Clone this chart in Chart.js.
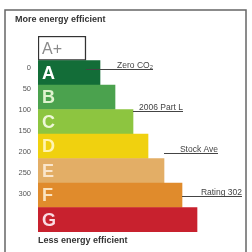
<!DOCTYPE html>
<html>
<head>
<meta charset="utf-8">
<script src="https://cdn.jsdelivr.net/npm/chart.js@4/dist/chart.umd.min.js"></script>
<style>
  html, body { margin: 0; padding: 0; background: #fff; }
  #wrap { width: 252px; height: 252px; }
</style>
</head>
<body>
<div id="wrap"><canvas id="ratingChart" width="252" height="252"></canvas></div>
<script>
// Rating bands, top (best) to bottom (worst)
const grades = ['A+', 'A', 'B', 'C', 'D', 'E', 'F', 'G'];
const barLengths = [48, 62, 77, 95, 110, 126, 144, 159]; // bar length per band
const bandColors = ['#ffffff', '#136d38', '#4ba24e', '#8dc540', '#f0d10f', '#e3ae66', '#e08b2c', '#c8212e'];
const letterColors = ['#8a8a8a', '#ffffff', '#dff3cf', '#eef7d8', '#fff4b0', '#fae6cc', '#fbe4c0', '#fadbe2'];

// Scale on the left (kg CO2 / m2 type figures)
const scaleTicks = [0, 50, 100, 150, 200, 250, 300];

// Reference marks on the right
const markLabels = ['Zero CO\u2082', '2006 Part L', 'Stock Ave', 'Rating 302'];
const markValues = [0, 100, 200, 302];   // where the mark sits on the scale
const markBands = ['A+', 'C', 'E', 'F']; // line starts at this band's bar end
const markEnds = [115, 145, 180, 204];   // label end, in bar length units

// Draws frame, headings, band letters and the reference marks
const extrasPlugin = {
    id: 'extras',
    afterDatasetsDraw(chart) {
        const c = chart.ctx;
        const area = chart.chartArea;
        const x = chart.scales.x;
        const y = chart.scales.y;
        const y2 = chart.scales.y2;

        c.save();

        // outer frame
        c.strokeStyle = '#666';
        c.lineWidth = 1.5;
        c.strokeRect(5, 10, 241, 250);

        // headings
        c.fillStyle = '#333';
        c.font = 'bold 9px "Liberation Sans", Arial, sans-serif';
        c.textAlign = 'left';
        c.textBaseline = 'middle';
        c.fillText('More energy efficient', 15, 20);
        c.fillText('Less energy efficient', area.left, 241);

        // band letters
        grades.forEach((g, i) => {
            const cy = y.getPixelForValue(i);
            c.fillStyle = letterColors[i];
            if (g === 'A+') {
                c.font = '16px "Liberation Sans", Arial, sans-serif';
            } else {
                c.font = 'bold 18px "Liberation Sans", Arial, sans-serif';
            }
            c.fillText(g, area.left + 4, cy + 1);
        });

        // reference marks
        c.font = '8.5px "Liberation Sans", Arial, sans-serif';
        c.textAlign = 'right';
        c.textBaseline = 'alphabetic';
        markLabels.forEach((label, i) => {
            const band = grades.indexOf(markBands[i]);
            const x0 = x.getPixelForValue(barLengths[band]);
            const x1 = x.getPixelForValue(markEnds[i]);
            const ly = Math.round(y2.getPixelForValue(markValues[i])) - 1.5;
            c.strokeStyle = '#444';
            c.lineWidth = 1;
            c.beginPath();
            c.moveTo(x0, ly);
            c.lineTo(x1, ly);
            c.stroke();
            c.fillStyle = '#444';
            c.fillText(label, x1, ly - 2);
        });

        c.restore();
    }
};

const ctx = document.getElementById('ratingChart').getContext('2d');

new Chart(ctx, {
    type: 'bar',
    data: {
        labels: grades,
        datasets: [{
            data: barLengths,
            backgroundColor: bandColors,
            borderColor: '#333',
            borderWidth: grades.map(g => (g === 'A+' ? 1.5 : 0)),
            borderSkipped: false,
            barPercentage: 1,
            categoryPercentage: 1,
        }],
    },
    options: {
        indexAxis: 'y',
        responsive: false,
        animation: false,
        layout: {
            padding: { top: 36, bottom: 20, left: 8, right: 9 },
        },
        plugins: {
            legend: { display: false },
            tooltip: { enabled: false },
        },
        scales: {
            x: { display: false, min: 0, max: 205 },
            y: { display: false },
            y2: {
                type: 'linear',
                position: 'left',
                reverse: true,
                min: -50,
                max: 350,
                grid: { display: false, drawTicks: false },
                border: { display: false },
                afterBuildTicks(scale) {
                    scale.ticks = scaleTicks.map(v => ({ value: v }));
                },
                afterFit(scale) {
                    scale.width = 30;
                },
                ticks: {
                    padding: 7,
                    labelOffset: -3,
                    color: '#555',
                    font: { size: 7.5, family: '"Liberation Sans", Arial, sans-serif' },
                },
            },
        },
    },
    plugins: [extrasPlugin],
});
</script>
</body>
</html>
